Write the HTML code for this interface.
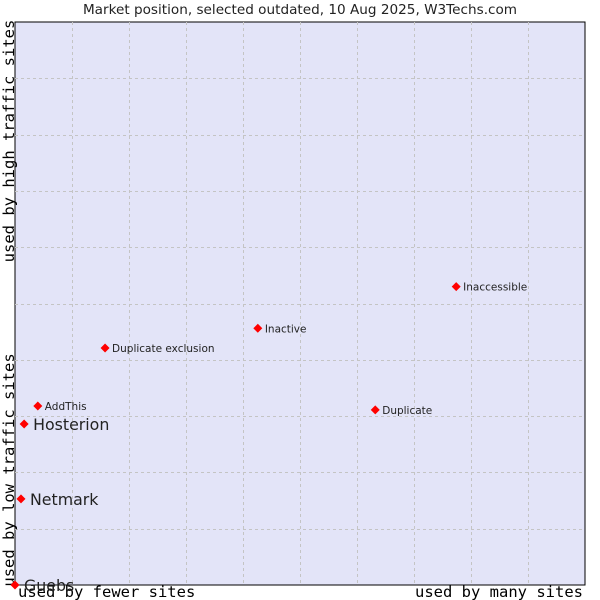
<!DOCTYPE html>
<html><head><meta charset="utf-8"><style>
body{margin:0;background:#fff;width:600px;height:600px;overflow:hidden}
svg{display:block}
</style></head><body>
<svg id="chart" width="600" height="600" xmlns="http://www.w3.org/2000/svg">
<text x="300" y="14" text-anchor="middle" font-family="DejaVu Sans, sans-serif" font-size="13.6" fill="#222">Market position, selected outdated, 10 Aug 2025, W3Techs.com</text>
<rect x="15" y="22" width="570" height="563" fill="#e3e4f8" stroke="#000" stroke-width="1"/>
<g id="grid"></g>
<text transform="translate(14,141) rotate(-90)" text-anchor="middle" font-family="DejaVu Sans Mono, Liberation Mono, monospace" font-size="15.5" fill="#000">used by high traffic sites</text>
<text transform="translate(14,470) rotate(-90)" text-anchor="middle" font-family="DejaVu Sans Mono, Liberation Mono, monospace" font-size="15.5" fill="#000">used by low traffic sites</text>
<text x="18" y="597" font-family="DejaVu Sans Mono, Liberation Mono, monospace" font-size="15.5" fill="#000">used by fewer sites</text>
<text x="583" y="597" text-anchor="end" font-family="DejaVu Sans Mono, Liberation Mono, monospace" font-size="15.5" fill="#000">used by many sites</text>
<g id="points"></g>
</svg>
<script>
const names=["Guebs","Netmark","Hosterion","AddThis","Duplicate exclusion","Inactive","Duplicate","Inaccessible"];
const xValues=[0,1.05,1.6,4.0,15.8,42.6,63.2,77.4];
const yValues=[0,15.3,28.6,31.8,42.1,45.6,31.1,53.0];
const bigLabel=[true,true,true,false,false,false,false,false];
const NS="http://www.w3.org/2000/svg";
const X0=15,X1=585,Y0=585,Y1=22;
function sx(v){return X0+v/100*(X1-X0);}
function sy(v){return Y0-v/100*(Y0-Y1);}
const grid=document.getElementById('grid');
for(let i=1;i<10;i++){
  const gx=Math.round(sx(i*10))+0.5, gy=Math.round(sy(i*10))+0.5;
  const v=document.createElementNS(NS,'line');
  v.setAttribute('x1',gx);v.setAttribute('x2',gx);v.setAttribute('y1',Y1);v.setAttribute('y2',Y0);
  v.setAttribute('stroke','#c4c4c4');v.setAttribute('stroke-dasharray','3,3');
  
  
  grid.appendChild(v);
  const h=document.createElementNS(NS,'line');
  h.setAttribute('x1',X0);h.setAttribute('x2',X1);h.setAttribute('y1',gy);h.setAttribute('y2',gy);
  h.setAttribute('stroke','#c4c4c4');h.setAttribute('stroke-dasharray','3,3');
  
  
  grid.appendChild(h);
}
const pts=document.getElementById('points');
names.forEach((n,i)=>{
  const x=sx(xValues[i]),y=sy(yValues[i]);
  const d=document.createElementNS(NS,'polygon');
  d.setAttribute('points',`${x},${y-4.5} ${x+4.5},${y} ${x},${y+4.5} ${x-4.5},${y}`);
  d.setAttribute('fill','#f00');
  
  
  pts.appendChild(d);
  const t=document.createElementNS(NS,'text');
  t.setAttribute('x',x+(bigLabel[i]?9:7));
  t.setAttribute('y',y+(bigLabel[i]?6:4));
  t.setAttribute('font-family','DejaVu Sans, sans-serif');
  t.setAttribute('font-size',bigLabel[i]?'15.8':'10.5');
  t.setAttribute('fill','#222');
  t.textContent=n;
  
  
  pts.appendChild(t);
});
</script>
</body></html>
